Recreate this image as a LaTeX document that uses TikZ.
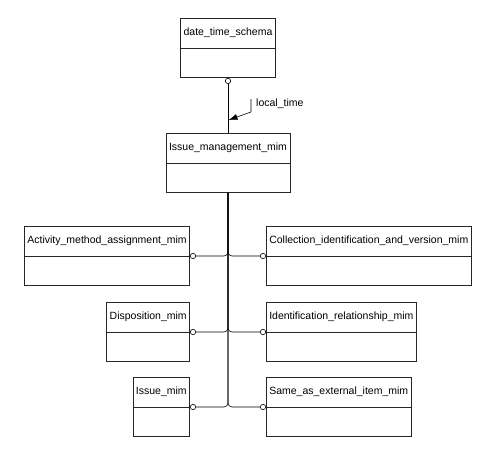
\documentclass[tikz,border=0pt]{standalone}
\usepackage{fontspec}
\setmainfont{Liberation Sans}
\usetikzlibrary{shapes, arrows.meta, positioning}
\tikzstyle{entity} = [rectangle split, rectangle split parts=2, draw=black!85, line width=0.6pt, fill=white, font=\fontsize{10.5}{12}\selectfont, inner xsep=3pt, inner ysep=9.5pt, text height=7.5pt, text depth=2.5pt, rectangle split empty part height=7.5pt, rectangle split empty part depth=2.5pt]
\tikzstyle{link} = [line width=0.6pt, rounded corners=4pt, -{Circle[open, length=6pt]}]
\tikzstyle{role} = [font=\fontsize{10.5}{12}\selectfont, inner sep=0pt, anchor=west]

\begin{document}
\begin{tikzpicture}[x=1pt, y=-1pt]
\useasboundingbox[fill=white] (0,0) rectangle (492,455);
% schema boxes
\node (dts) [entity, anchor=text split] at (228,48) {date\_time\_schema \nodepart{two}};
\node (ims) [entity, anchor=text split] at (228,163) {Issue\_management\_mim \nodepart{two}};
\node (act) [entity, anchor=text split east] at (190,256) {Activity\_method\_assignment\_mim \nodepart{two}};
\node (dis) [entity, anchor=text split east] at (190,332) {Disposition\_mim \nodepart{two}};
\node (iss) [entity, anchor=text split east] at (190,407) {Issue\_mim \nodepart{two}};
\node (col) [entity, anchor=text split west] at (266,256) {Collection\_identification\_and\_version\_mim \nodepart{two}};
\node (idr) [entity, anchor=text split west] at (266,332) {Identification\_relationship\_mim \nodepart{two}};
\node (sae) [entity, anchor=text split west] at (266,407) {Same\_as\_external\_item\_mim \nodepart{two}};
% references
\draw[link] (ims.north) -- (dts.south);
\foreach \n in {act, dis, iss}
  \draw[link] (ims.south) |- (\n.text split east);
\foreach \n in {col, idr, sae}
  \draw[link] (ims.south) |- (\n.text split west);
% role label
\node (lt) [role] at (256,104) {local\_time};
\coordinate (ltt) at (251,99);
\coordinate (ltb) at (251,112);
\coordinate (lta) at (228.5,120);
\draw[line width=0.6pt, -{Latex[length=9pt, width=6pt]}] (ltt) -- (ltb) -- (lta);
\end{tikzpicture}
\end{document}
